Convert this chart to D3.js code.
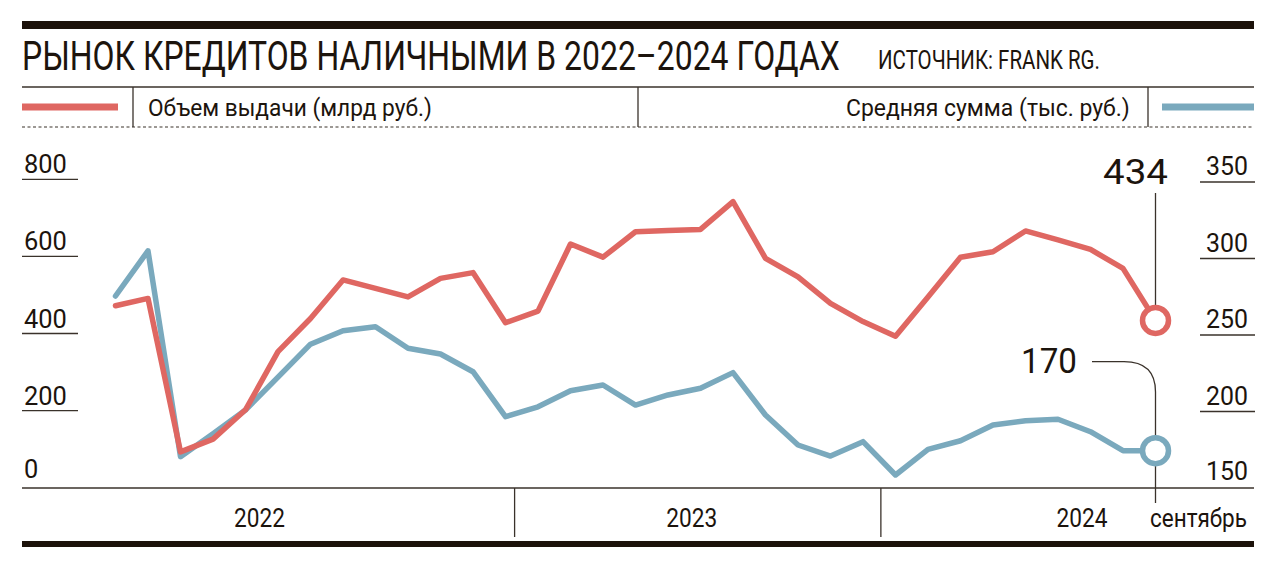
<!DOCTYPE html>
<html><head><meta charset="utf-8">
<script src="https://cdn.jsdelivr.net/npm/d3@7"></script>
<style>
html,body{margin:0;padding:0;background:#fff;}
svg{display:block;}
text{font-family:"Roboto","Liberation Sans",sans-serif;fill:#1c140d;}
</style></head>
<body>
<svg id="chart" width="1276" height="567"></svg>
<script>
// ---- DATA ----
const months = ["янв 2022","фев","мар","апр","май","июн","июл","авг","сен","окт","ноя","дек",
  "янв 2023","фев","мар","апр","май","июн","июл","авг","сен","окт","ноя","дек",
  "янв 2024","фев","мар","апр","май","июн","июл","авг","сентябрь"];
const volume = [472,491,93,126,202,353,439,539,517,495,543,558,428,458,632,598,664,667,670,742,595,547,478,431,393,495,598,612,666,643,618,569,434];
const avgSum = [275.5,305,170.5,185.5,201,222.5,244,252.8,255.4,241.3,237.6,226,196.6,203.1,213.6,217.3,204.2,210.8,215.2,225.4,197.7,178.1,170.9,180.3,158.5,175.3,180.9,191.2,194,194.9,186.8,174.4,174.4];
const leftTicks = [0,200,400,600,800];
const rightTicks = [150,200,250,300,350];
const yearLabels = ["2022","2023","2024"];
const yearLabelPos = [4.43,17.73,29.74];
const yearDividers = [12.28,23.55];
const lastMonthLabel = "сентябрь";
const volumeLabel = "434";
const avgLabel = "170";

const RED = "#df6762", BLUE = "#7aa9bd", LINE = "#3a322b";

const svg = d3.select("#chart");
const x = d3.scaleLinear().domain([0, months.length-1]).range([115.5,1155.5]);
const yL = d3.scaleLinear().domain([0,800]).range([487.7,179.3]);
const yR = d3.scaleLinear().domain([150,350]).range([488,182]);

// condensed text: natural glyphs squeezed horizontally to a target width
function fitText(str, px, py, size, width, anchor){
  const t = svg.append("text").attr("x",0).attr("y",0).attr("font-size",size).text(str);
  const w = t.node().getComputedTextLength();
  const s = width / w;
  let x0 = px;
  if(anchor==="end") x0 = px - width;
  else if(anchor==="middle") x0 = px - width/2;
  t.attr("transform",`translate(${x0},${py}) scale(${s},1)`);
  return t;
}

// top & bottom thick bars
svg.append("rect").attr("x",22).attr("y",21).attr("width",1232).attr("height",8).attr("fill","#1c120a");
svg.append("rect").attr("x",22).attr("y",541).attr("width",1232).attr("height",6).attr("fill","#1c120a");

// title
fitText("РЫНОК КРЕДИТОВ НАЛИЧНЫМИ В 2022–2024 ГОДАХ",22,70,41,818,"start");
fitText("ИСТОЧНИК: FRANK RG.",878,69,25,222,"start");

// legend row
svg.append("line").attr("x1",22).attr("x2",1254).attr("y1",87).attr("y2",87).attr("stroke",LINE).attr("stroke-width",1.3);
svg.append("line").attr("x1",22).attr("x2",1254).attr("y1",127).attr("y2",127).attr("stroke",LINE).attr("stroke-width",1.2).attr("stroke-dasharray","3,2.5");
[133,638,1148].forEach(d=>svg.append("line").attr("x1",d).attr("x2",d).attr("y1",87).attr("y2",127).attr("stroke",LINE).attr("stroke-width",1.3));
svg.append("line").attr("x1",22).attr("x2",118).attr("y1",107).attr("y2",107).attr("stroke",RED).attr("stroke-width",7);
svg.append("line").attr("x1",1162).attr("x2",1254).attr("y1",107).attr("y2",107).attr("stroke",BLUE).attr("stroke-width",7);
fitText("Объем выдачи (млрд руб.)",148,116,23,284,"start");
fitText("Средняя сумма (тыс. руб.)",1130,116,23,284,"end");

// left axis
leftTicks.forEach(t=>{
  if(t>0) svg.append("line").attr("x1",22).attr("x2",78).attr("y1",yL(t)).attr("y2",yL(t)).attr("stroke",LINE).attr("stroke-width",1.3);
  fitText(String(t),24,yL(t)-(t>0?6:10),26,String(t).length*14.3,"start");
});
// right axis
rightTicks.forEach(t=>{
  if(t>150) svg.append("line").attr("x1",1200).attr("x2",1255).attr("y1",yR(t)).attr("y2",yR(t)).attr("stroke",LINE).attr("stroke-width",1.3);
  fitText(String(t),1248,yR(t)-(t>150?7:8),26,42,"end");
});

// bottom axis
svg.append("line").attr("x1",22).attr("x2",1254).attr("y1",488).attr("y2",488).attr("stroke",LINE).attr("stroke-width",1.4);
yearDividers.forEach(d=>svg.append("line").attr("x1",x(d)).attr("x2",x(d)).attr("y1",488).attr("y2",537).attr("stroke",LINE).attr("stroke-width",1.3));
yearLabels.forEach((t,i)=>fitText(t,x(yearLabelPos[i]),527,25,51,"middle"));
fitText(lastMonthLabel,1198.5,527,25,97,"middle");

const n = months.length-1;
// annotation leaders
svg.append("line").attr("x1",x(n)).attr("x2",x(n)).attr("y1",193).attr("y2",yL(volume[n])-12).attr("stroke",LINE).attr("stroke-width",1.3);
svg.append("path").attr("d",`M1092,361.7 H1124 Q${x(n)},361.7 ${x(n)},392 V${yR(avgSum[n])-12}`).attr("fill","none").attr("stroke",LINE).attr("stroke-width",1.3);
svg.append("line").attr("x1",x(n)).attr("x2",x(n)).attr("y1",yR(avgSum[n])+12).attr("y2",503).attr("stroke",LINE).attr("stroke-width",1.3);

// lines
const lineL = d3.line().x((d,i)=>x(i)).y(d=>yL(d));
const lineR = d3.line().x((d,i)=>x(i)).y(d=>yR(d));
svg.append("path").datum(avgSum).attr("d",lineR).attr("fill","none").attr("stroke",BLUE).attr("stroke-width",5.5).attr("stroke-linejoin","round").attr("stroke-linecap","round");
svg.append("path").datum(volume).attr("d",lineL).attr("fill","none").attr("stroke",RED).attr("stroke-width",5.5).attr("stroke-linejoin","round").attr("stroke-linecap","round");

// end circles
svg.append("circle").attr("cx",x(n)).attr("cy",yL(volume[n])).attr("r",13).attr("fill","#fff").attr("stroke",RED).attr("stroke-width",5.5);
svg.append("circle").attr("cx",x(n)).attr("cy",yR(avgSum[n])).attr("r",13).attr("fill","#fff").attr("stroke",BLUE).attr("stroke-width",5.5);

// value labels
fitText(volumeLabel,1168,184,36,65,"end");
fitText(avgLabel,1077,373,36,56,"end");
</script>
</body></html>
